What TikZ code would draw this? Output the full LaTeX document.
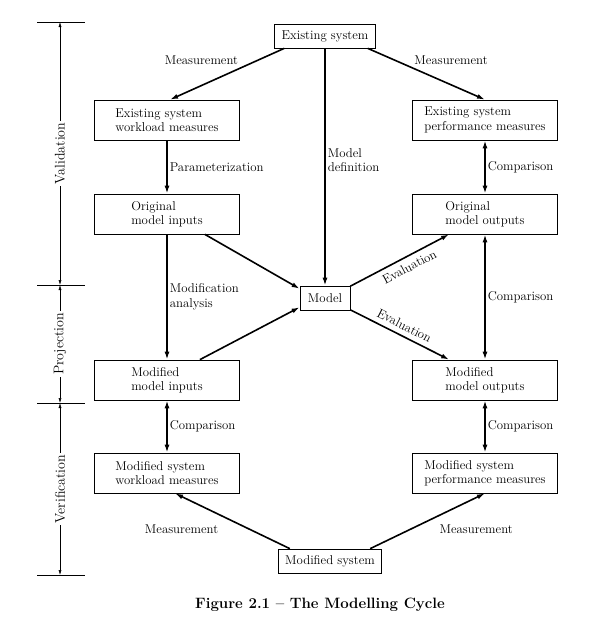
\documentclass[tikz,border=0pt]{standalone}
\usepackage{tikz}
\usetikzlibrary{arrows.meta,calc}

\begin{document}
\begin{tikzpicture}[x=1pt, y=-1pt,
    box/.style={draw, line width=0.7pt, minimum width=145pt, minimum height=40pt,
                align=left, font=\fontsize{12.8}{14.5}\selectfont},
    sbox/.style={draw, line width=0.7pt, minimum height=24pt, inner xsep=7pt,
                 font=\fontsize{12.8}{14.5}\selectfont},
    lbl/.style={font=\fontsize{12.8}{14.5}\selectfont, align=left, inner sep=2pt},
    arr/.style={-{Latex[length=8pt,width=5pt]}, line width=1.6pt},
    darr/.style={{Latex[length=8pt,width=5pt]}-{Latex[length=8pt,width=5pt]}, line width=1.6pt},
    dim/.style={{Latex[length=5pt,width=3pt]}-{Latex[length=5pt,width=3pt]}, line width=0.5pt},
    tick/.style={line width=0.7pt},
    phase/.style={fill=white, rotate=90, inner xsep=2pt, inner ysep=1pt,
                  font=\fontsize{14}{16}\selectfont}
]
    \useasboundingbox (0,0) rectangle (589,624);

    % boxes
    \node[sbox] (exist) at (325,36) {Existing system};
    \node[box] (wl) at (167,120) {Existing system\\workload measures};
    \node[box] (perf) at (485,120) {Existing system\\performance measures};
    \node[box] (oi) at (167,214) {Original\\model inputs};
    \node[box] (oo) at (485,214) {Original\\model outputs};
    \node[sbox, minimum width=50pt, inner xsep=5pt] (model) at (325,298) {Model};
    \node[box] (mi) at (167,380) {Modified\\model inputs};
    \node[box] (mo) at (485,380) {Modified\\model outputs};
    \node[box] (mws) at (167,473) {Modified system\\workload measures};
    \node[box] (mps) at (485,473) {Modified system\\performance measures};
    \node[sbox] (msys) at (330,561) {Modified system};

    % connectors
    \draw[arr] ([xshift=10pt]exist.south west) -- ([xshift=3pt]wl.north)
        node[lbl, pos=0.38, anchor=south east] {Measurement};
    \draw[arr] ([xshift=-8pt]exist.south east) -- (perf.north)
        node[lbl, pos=0.375, anchor=south west] {Measurement};
    \draw[arr] (exist) -- (model)
        node[lbl, pos=0.47, right] {Model\\definition};
    \draw[arr] (wl) -- (oi) node[lbl, midway, right] {Parameterization};
    \draw[darr] (perf) -- (oo) node[lbl, midway, right] {Comparison};
    \draw[arr] ([xshift=-35pt]oi.south east) -- (model.160);
    \draw[arr] (model.25) -- ([xshift=37pt]oo.south west)
        node[lbl, pos=0.55, below=3pt, sloped] {Evaluation};
    \draw[arr] (model.-25) -- ([xshift=37pt]mo.north west)
        node[lbl, pos=0.5, above=3pt, sloped] {Evaluation};
    \draw[arr] ([xshift=-40pt]mi.north east) -- (model.-160);
    \draw[arr] (oi) -- (mi) node[lbl, midway, right] {Modification\\analysis};
    \draw[darr] (oo) -- (mo) node[lbl, midway, right] {Comparison};
    \draw[darr] (mi) -- (mws) node[lbl, midway, right] {Comparison};
    \draw[darr] (mo) -- (mps) node[lbl, midway, right] {Comparison};
    \draw[arr] ([xshift=12pt]msys.north west) -- ([xshift=8pt]mws.south)
        node[lbl, pos=0.6, anchor=north east, yshift=-6pt] {Measurement};
    \draw[arr] ([xshift=-12pt]msys.north east) -- (mps.south)
        node[lbl, pos=0.58, anchor=north west, yshift=-5pt] {Measurement};

    % phase scale on the left
    \coordinate (v0) at (60,22);
    \coordinate (v1) at (60,285);
    \coordinate (v2) at (60,403);
    \coordinate (v3) at (60,575);
    \foreach \c in {v0,v1,v2,v3}
        \draw[tick] ([xshift=-23pt]\c) -- ([xshift=25pt]\c);
    \draw[dim] (v0) -- (v1) node[phase, midway] {Validation};
    \draw[dim] (v1) -- (v2) node[phase, midway] {Projection};
    \draw[dim] (v2) -- (v3) node[phase, midway] {Verification};

    \node[font=\bfseries\fontsize{15}{17}\selectfont] (cap) at (320,605)
        {Figure 2.1 -- The Modelling Cycle};
\end{tikzpicture}
\end{document}
